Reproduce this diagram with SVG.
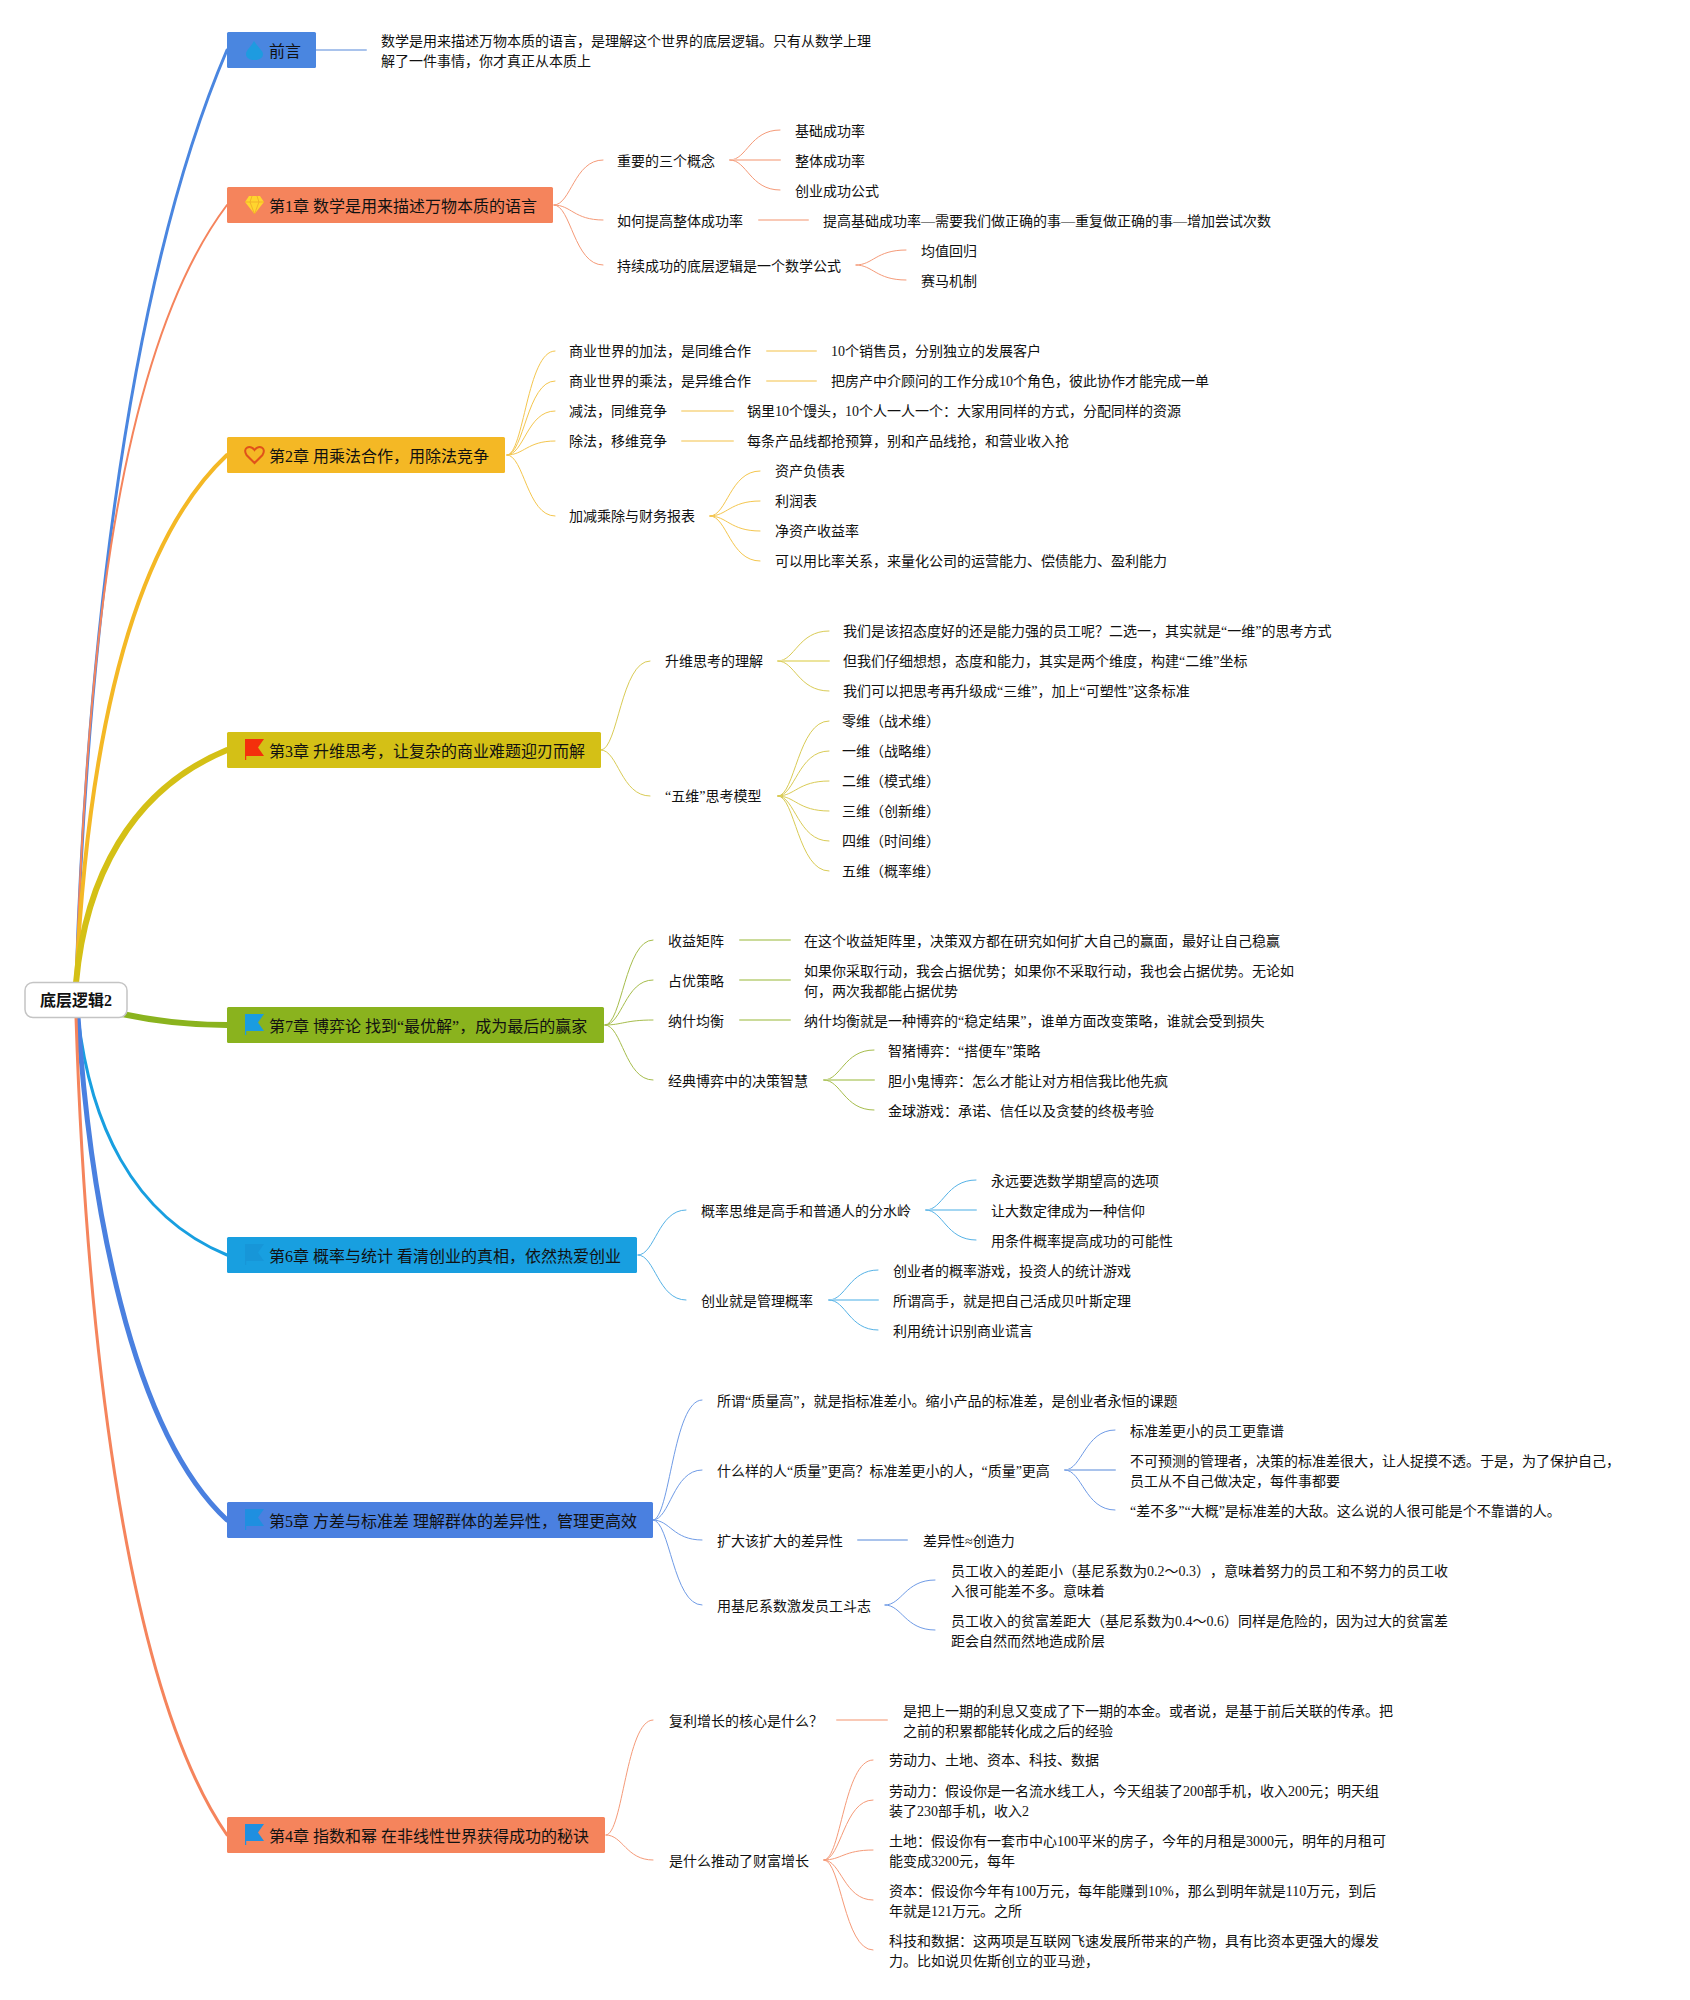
<svg xmlns="http://www.w3.org/2000/svg" xmlns:xlink="http://www.w3.org/1999/xlink" width="1690" height="2000" viewBox="0 0 1690 2000">
<style>
text{font-family:"Liberation Serif","Noto Sans CJK SC",sans-serif;fill:#111;text-spacing-trim:space-all}
.t{font-size:14px}
.h{font-size:16px}
.r{font-size:16px;font-weight:bold;text-anchor:middle}
.b{stroke:none}
#connectors path{fill:none;stroke-linecap:round}
.m{stroke-width:3}
.f{stroke-width:1}
.l{stroke-width:2}
.s0{stroke:#4a86e0}.s1{stroke:#f5845c}.s2{stroke:#f4b825}.s3{stroke:#d4c016}.s7{stroke:#8ab31e}.s6{stroke:#189fe0}.s5{stroke:#4a80e0}.s4{stroke:#f5845c}
.a1,.a4{stroke:#f59a78}.a2{stroke:#f4c64e}.a3{stroke:#d9cb55}.a7{stroke:#a6bd4c}.a6{stroke:#55b2e6}.a5{stroke:#6f9be6}
.p0,.p5{stroke:#a9c3ec}.p1,.p4{stroke:#f9c9b6}.p2{stroke:#f9e0a3}.p3{stroke:#ece49c}.p7{stroke:#cbdb9a}.p6{stroke:#a3d6f2}
</style>
<defs>
<path id="flag" d="M245,-11H264L258,-2.5L264,6H246.2V10H245Z"/>
</defs>
<g id="connectors">
<path class="s0" stroke-width="3" d="M76,983C85,700 120,300 227,50"/>
<path class="s1" stroke-width="2" d="M76,983C85,700 110,360 227,205"/>
<path class="s2" stroke-width="4" d="M76,983C85,800 115,560 227,455"/>
<path class="s3" stroke-width="6" d="M76,983C85,880 130,790 227,750"/>
<path class="s7" stroke-width="6" d="M122,1014C160,1022 190,1025 227,1025"/>
<path class="s6" stroke-width="3" d="M78,1017C90,1120 130,1215 227,1255"/>
<path class="s5" stroke-width="5" d="M78,1017C90,1200 130,1430 227,1520"/>
<path class="s4" stroke-width="3" d="M76,1017C85,1300 120,1680 227,1835"/>
<path class="l p0" d="M316,50H366"/>
<!-- ch1 -->
<path class="f a1" d="M554,205c17,0 20,-45 49,-45"/>
<path class="f a1" d="M554,205c17,0 20,15 49,15"/>
<path class="f a1" d="M554,205c17,0 20,60 49,60"/>
<path class="f a1" d="M730,160c17,0 20,-30 50,-30"/>
<path class="l p1" d="M730,160H780"/>
<path class="f a1" d="M730,160c17,0 20,30 50,30"/>
<path class="l p1" d="M759,220H808"/>
<path class="f a1" d="M856,265c17,0 20,-15 50,-15"/>
<path class="f a1" d="M856,265c17,0 20,15 50,15"/>
<!-- ch2 -->
<path class="f a2" d="M507,455c17,0 20,-104 48,-104"/>
<path class="f a2" d="M507,455c17,0 20,-74 48,-74"/>
<path class="f a2" d="M507,455c17,0 20,-44 48,-44"/>
<path class="f a2" d="M507,455c17,0 20,-14 48,-14"/>
<path class="f a2" d="M507,455c17,0 20,61 48,61"/>
<path class="l p2" d="M767,351H816"/>
<path class="l p2" d="M767,381H816"/>
<path class="l p2" d="M682,411H733"/>
<path class="l p2" d="M682,441H733"/>
<path class="f a2" d="M710,516c17,0 20,-45 50,-45"/>
<path class="f a2" d="M710,516c17,0 20,-15 50,-15"/>
<path class="f a2" d="M710,516c17,0 20,15 50,15"/>
<path class="f a2" d="M710,516c17,0 20,45 50,45"/>
<!-- ch3 -->
<path class="f a3" d="M601,750c17,0 20,-89 49,-89"/>
<path class="f a3" d="M601,750c17,0 20,46 49,46"/>
<path class="f a3" d="M778,661c17,0 20,-30 51,-30"/>
<path class="l p3" d="M778,661H829"/>
<path class="f a3" d="M778,661c17,0 20,30 51,30"/>
<path class="f a3" d="M778,796c17,0 20,-75 51,-75"/>
<path class="f a3" d="M778,796c17,0 20,-45 51,-45"/>
<path class="f a3" d="M778,796c17,0 20,-15 51,-15"/>
<path class="f a3" d="M778,796c17,0 20,15 51,15"/>
<path class="f a3" d="M778,796c17,0 20,45 51,45"/>
<path class="f a3" d="M778,796c17,0 20,75 51,75"/>
<!-- ch7 -->
<path class="f a7" d="M605,1025c17,0 20,-85 48,-85"/>
<path class="f a7" d="M605,1025c17,0 20,-45 48,-45"/>
<path class="f a7" d="M605,1025c17,0 20,-5 48,-5"/>
<path class="f a7" d="M605,1025c17,0 20,55 48,55"/>
<path class="l p7" d="M740,940H790"/>
<path class="l p7" d="M740,980H790"/>
<path class="l p7" d="M740,1020H790"/>
<path class="f a7" d="M824,1080c17,0 20,-30 50,-30"/>
<path class="l p7" d="M824,1080H874"/>
<path class="f a7" d="M824,1080c17,0 20,30 50,30"/>
<!-- ch6 -->
<path class="f a6" d="M638,1255c17,0 20,-45 48,-45"/>
<path class="f a6" d="M638,1255c17,0 20,45 48,45"/>
<path class="f a6" d="M926,1210c17,0 20,-30 50,-30"/>
<path class="l p6" d="M926,1210H976"/>
<path class="f a6" d="M926,1210c17,0 20,30 50,30"/>
<path class="f a6" d="M829,1300c17,0 20,-30 49,-30"/>
<path class="l p6" d="M829,1300H878"/>
<path class="f a6" d="M829,1300c17,0 20,30 49,30"/>
<!-- ch5 -->
<path class="f a5" d="M653,1520c17,0 20,-120 49,-120"/>
<path class="f a5" d="M653,1520c17,0 20,-50 49,-50"/>
<path class="f a5" d="M653,1520c17,0 20,20 49,20"/>
<path class="f a5" d="M653,1520c17,0 20,85 49,85"/>
<path class="f a5" d="M1065,1470c17,0 20,-40 50,-40"/>
<path class="l p5" d="M1065,1470H1115"/>
<path class="f a5" d="M1065,1470c17,0 20,40 50,40"/>
<path class="l p5" d="M858,1540H907"/>
<path class="f a5" d="M885,1605c17,0 20,-25 50,-25"/>
<path class="f a5" d="M885,1605c17,0 20,25 50,25"/>
<!-- ch4 -->
<path class="f a4" d="M606,1835c17,0 20,-115 47,-115"/>
<path class="f a4" d="M606,1835c17,0 20,25 47,25"/>
<path class="l p4" d="M837,1720H887"/>
<path class="f a4" d="M824,1860c17,0 20,-100 49,-100"/>
<path class="f a4" d="M824,1860c17,0 20,-60 49,-60"/>
<path class="f a4" d="M824,1860c17,0 20,-10 49,-10"/>
<path class="f a4" d="M824,1860c17,0 20,40 49,40"/>
<path class="f a4" d="M824,1860c17,0 20,90 49,90"/>
</g>
<g id="root"><rect x="25" y="982.500" width="102" height="35" rx="8" fill="#fff" stroke="#c4c4c4" stroke-width="1.500"/><text class="r" x="76" y="1006">底层逻辑2</text></g>
<g id="ch0"><rect x="227" y="32" width="89" height="36" rx="1.500" fill="#4a86e0"/><path fill="#1e9be0" d="M254,41C258,47 263,51 263,54C263,58 259,60 254.500,60C250,60 246,58 246,54C246,50 251,47 254,41Z"/><text class="h" x="269" y="57">前言</text></g>
<g id="ch1"><rect x="227" y="187" width="326" height="36" rx="1.500" fill="#f5845c"/><path fill="#ffd52e" d="M249,196H260L264,202L254.500,214L245,202Z"/><path fill="none" stroke="#f0a828" stroke-width=".8" d="M245,202H264M252,196L250,202L254.500,214L259,202L257,196"/><text class="h" x="269" y="212">第1章 数学是用来描述万物本质的语言</text></g>
<g id="ch2"><rect x="227" y="437" width="278" height="36" rx="1.500" fill="#f4b825"/><path fill="none" stroke="#e0521a" stroke-width="2" d="M254.500,463L246.500,455C242,448 250,444 254.500,450C259,444 267,448 262.500,455Z"/><text class="h" x="269" y="462">第2章 用乘法合作，用除法竞争</text></g>
<g id="ch3"><rect x="227" y="732" width="374" height="36" rx="1.500" fill="#d4c016"/><use xlink:href="#flag" href="#flag" y="750" fill="#f4300c"/><text class="h" x="269" y="757">第3章 升维思考，让复杂的商业难题迎刃而解</text></g>
<g id="ch7"><rect x="227" y="1007" width="377" height="36" rx="1.500" fill="#8ab31e"/><use xlink:href="#flag" href="#flag" y="1025" fill="#1a9ce0"/><text class="h" x="269" y="1032">第7章 博弈论 找到“最优解”，成为最后的赢家</text></g>
<g id="ch6"><rect x="227" y="1237" width="410" height="36" rx="1.500" fill="#189fe0"/><use xlink:href="#flag" href="#flag" y="1255" fill="#1796d8"/><text class="h" x="269" y="1262">第6章 概率与统计 看清创业的真相，依然热爱创业</text></g>
<g id="ch5"><rect x="227" y="1502" width="426" height="36" rx="1.500" fill="#4a80e0"/><use xlink:href="#flag" href="#flag" y="1520" fill="#1f8fe0"/><text class="h" x="269" y="1527">第5章 方差与标准差 理解群体的差异性，管理更高效</text></g>
<g id="ch4"><rect x="227" y="1817" width="378" height="36" rx="1.500" fill="#f5845c"/><use xlink:href="#flag" href="#flag" y="1835" fill="#1f8fe0"/><text class="h" x="269" y="1842">第4章 指数和幂 在非线性世界获得成功的秘诀</text></g>
<g id="leaf-0"><text class="t" x="381" y="45.500">数学是用来描述万物本质的语言，是理解这个世界的底层逻辑。只有从数学上理</text><text class="t" x="381" y="66">解了一件事情，你才真正从本质上</text></g>
<g id="leaf-1">
<g id="n101"><text class="t" x="617" y="166">重要的三个概念</text></g>
<g id="n102"><text class="t" x="795" y="136">基础成功率</text></g>
<g id="n103"><text class="t" x="795" y="166">整体成功率</text></g>
<g id="n104"><text class="t" x="795" y="196">创业成功公式</text></g>
<g id="n105"><text class="t" x="617" y="226">如何提高整体成功率</text></g>
<g id="n106"><text class="t" x="823" y="226">提高基础成功率—需要我们做正确的事—重复做正确的事—增加尝试次数</text></g>
<g id="n107"><text class="t" x="617" y="271">持续成功的底层逻辑是一个数学公式</text></g>
<g id="n108"><text class="t" x="921" y="256">均值回归</text></g>
<g id="n109"><text class="t" x="921" y="286">赛马机制</text></g>
</g>
<g id="leaf-2">
<g id="n201"><text class="t" x="569" y="356">商业世界的加法，是同维合作</text></g>
<g id="n202"><text class="t" x="831" y="356">10个销售员，分别独立的发展客户</text></g>
<g id="n203"><text class="t" x="569" y="386">商业世界的乘法，是异维合作</text></g>
<g id="n204"><text class="t" x="831" y="386">把房产中介顾问的工作分成10个角色，彼此协作才能完成一单</text></g>
<g id="n205"><text class="t" x="569" y="416">减法，同维竞争</text></g>
<g id="n206"><text class="t" x="747" y="416">锅里10个馒头，10个人一人一个：大家用同样的方式，分配同样的资源</text></g>
<g id="n207"><text class="t" x="569" y="446">除法，移维竞争</text></g>
<g id="n208"><text class="t" x="747" y="446">每条产品线都抢预算，别和产品线抢，和营业收入抢</text></g>
<g id="n209"><text class="t" x="569" y="521">加减乘除与财务报表</text></g>
<g id="n210"><text class="t" x="775" y="476">资产负债表</text></g>
<g id="n211"><text class="t" x="775" y="506">利润表</text></g>
<g id="n212"><text class="t" x="775" y="536">净资产收益率</text></g>
<g id="n213"><text class="t" x="775" y="566">可以用比率关系，来量化公司的运营能力、偿债能力、盈利能力</text></g>
</g>
<g id="leaf-3">
<g id="n301"><text class="t" x="665" y="666">升维思考的理解</text></g>
<g id="n302"><text class="t" x="843" y="636">我们是该招态度好的还是能力强的员工呢？二选一，其实就是“一维”的思考方式</text></g>
<g id="n303"><text class="t" x="843" y="666">但我们仔细想想，态度和能力，其实是两个维度，构建“二维”坐标</text></g>
<g id="n304"><text class="t" x="843" y="696">我们可以把思考再升级成“三维”，加上“可塑性”这条标准</text></g>
<g id="n305"><text class="t" x="665" y="801">“五维”思考模型</text></g>
<g id="n306"><text class="t" x="842" y="726">零维（战术维）</text></g>
<g id="n307"><text class="t" x="842" y="756">一维（战略维）</text></g>
<g id="n308"><text class="t" x="842" y="786">二维（模式维）</text></g>
<g id="n309"><text class="t" x="842" y="816">三维（创新维）</text></g>
<g id="n310"><text class="t" x="842" y="846">四维（时间维）</text></g>
<g id="n311"><text class="t" x="842" y="876">五维（概率维）</text></g>
</g>
<g id="leaf-7">
<g id="n701"><text class="t" x="668" y="946">收益矩阵</text></g>
<g id="n702"><text class="t" x="804" y="946">在这个收益矩阵里，决策双方都在研究如何扩大自己的赢面，最好让自己稳赢</text></g>
<g id="n703"><text class="t" x="668" y="986">占优策略</text></g>
<g id="n704"><text class="t" x="804" y="976">如果你采取行动，我会占据优势；如果你不采取行动，我也会占据优势。无论如</text><text class="t" x="804" y="996">何，两次我都能占据优势</text></g>
<g id="n705"><text class="t" x="668" y="1026">纳什均衡</text></g>
<g id="n706"><text class="t" x="804" y="1026">纳什均衡就是一种博弈的“稳定结果”，谁单方面改变策略，谁就会受到损失</text></g>
<g id="n707"><text class="t" x="668" y="1086">经典博弈中的决策智慧</text></g>
<g id="n708"><text class="t" x="888" y="1056">智猪博弈：“搭便车”策略</text></g>
<g id="n709"><text class="t" x="888" y="1086">胆小鬼博弈：怎么才能让对方相信我比他先疯</text></g>
<g id="n710"><text class="t" x="888" y="1116">金球游戏：承诺、信任以及贪婪的终极考验</text></g>
</g>
<g id="leaf-6">
<g id="n601"><text class="t" x="701" y="1216">概率思维是高手和普通人的分水岭</text></g>
<g id="n602"><text class="t" x="991" y="1186">永远要选数学期望高的选项</text></g>
<g id="n603"><text class="t" x="991" y="1216">让大数定律成为一种信仰</text></g>
<g id="n604"><text class="t" x="991" y="1246">用条件概率提高成功的可能性</text></g>
<g id="n605"><text class="t" x="701" y="1306">创业就是管理概率</text></g>
<g id="n606"><text class="t" x="893" y="1276">创业者的概率游戏，投资人的统计游戏</text></g>
<g id="n607"><text class="t" x="893" y="1306">所谓高手，就是把自己活成贝叶斯定理</text></g>
<g id="n608"><text class="t" x="893" y="1336">利用统计识别商业谎言</text></g>
</g>
<g id="leaf-5">
<g id="n501"><text class="t" x="717" y="1406">所谓“质量高”，就是指标准差小。缩小产品的标准差，是创业者永恒的课题</text></g>
<g id="n502"><text class="t" x="717" y="1476">什么样的人“质量”更高？标准差更小的人，“质量”更高</text></g>
<g id="n503"><text class="t" x="1130" y="1436">标准差更小的员工更靠谱</text></g>
<g id="n504"><text class="t" x="1130" y="1466">不可预测的管理者，决策的标准差很大，让人捉摸不透。于是，为了保护自己，</text><text class="t" x="1130" y="1486">员工从不自己做决定，每件事都要</text></g>
<g id="n505"><text class="t" x="1130" y="1516">“差不多”“大概”是标准差的大敌。这么说的人很可能是个不靠谱的人。</text></g>
<g id="n506"><text class="t" x="717" y="1546">扩大该扩大的差异性</text></g>
<g id="n507"><text class="t" x="923" y="1546">差异性≈创造力</text></g>
<g id="n508"><text class="t" x="717" y="1611">用基尼系数激发员工斗志</text></g>
<g id="n509"><text class="t" x="951" y="1576">员工收入的差距小（基尼系数为0.2～0.3），意味着努力的员工和不努力的员工收</text><text class="t" x="951" y="1596">入很可能差不多。意味着</text></g>
<g id="n510"><text class="t" x="951" y="1626">员工收入的贫富差距大（基尼系数为0.4～0.6）同样是危险的，因为过大的贫富差</text><text class="t" x="951" y="1646">距会自然而然地造成阶层</text></g>
</g>
<g id="leaf-4">
<g id="n401"><text class="t" x="669" y="1726">复利增长的核心是什么？</text></g>
<g id="n402"><text class="t" x="903" y="1715.500">是把上一期的利息又变成了下一期的本金。或者说，是基于前后关联的传承。把</text><text class="t" x="903" y="1736">之前的积累都能转化成之后的经验</text></g>
<g id="n403"><text class="t" x="669" y="1866">是什么推动了财富增长</text></g>
<g id="n404"><text class="t" x="889" y="1765">劳动力、土地、资本、科技、数据</text></g>
<g id="n405"><text class="t" x="889" y="1796">劳动力：假设你是一名流水线工人，今天组装了200部手机，收入200元；明天组</text><text class="t" x="889" y="1816">装了230部手机，收入2</text></g>
<g id="n406"><text class="t" x="889" y="1846">土地：假设你有一套市中心100平米的房子，今年的月租是3000元，明年的月租可</text><text class="t" x="889" y="1866">能变成3200元，每年</text></g>
<g id="n407"><text class="t" x="889" y="1896">资本：假设你今年有100万元，每年能赚到10%，那么到明年就是110万元，到后</text><text class="t" x="889" y="1916">年就是121万元。之所</text></g>
<g id="n408"><text class="t" x="889" y="1946">科技和数据：这两项是互联网飞速发展所带来的产物，具有比资本更强大的爆发</text><text class="t" x="889" y="1966">力。比如说贝佐斯创立的亚马逊，</text></g>
</g>
</svg>
